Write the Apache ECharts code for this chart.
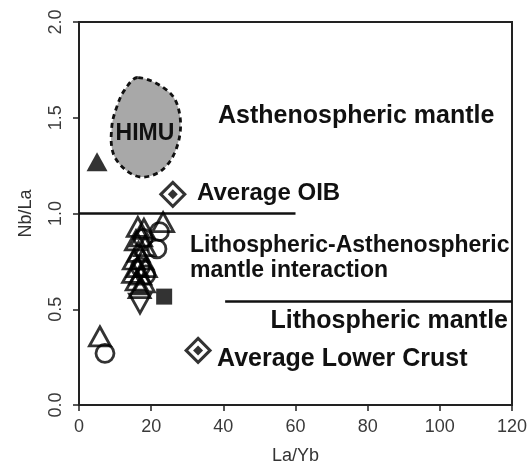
<!DOCTYPE html>
<html>
<head>
<meta charset="utf-8">
<script src="https://cdn.jsdelivr.net/npm/echarts@6/dist/echarts.min.js"></script>
<style>
html,body{margin:0;padding:0;background:#fff;}
#c{width:531px;height:470px;}
</style>
</head>
<body>
<div id="c"></div>
<script>
// ---- data ----
const xTicks = [0, 20, 40, 60, 80, 100, 120];
const yTicks = [0.0, 0.5, 1.0, 1.5, 2.0];

const himuX = [16.4, 25.2, 28.0, 27.2, 23.3, 17.5, 12.7, 9.4, 9.1, 10.5, 12.7];
const himuY = [1.71, 1.63, 1.506, 1.351, 1.231, 1.19, 1.231, 1.319, 1.455, 1.558, 1.647];

const line1X = [0, 60];
const line1Y = [1.0, 1.0];
const line2X = [40.5, 120];
const line2Y = [0.54, 0.54];

const openTriX = [16.3, 18.0, 17.2, 15.8, 18.3, 16.5, 15.2, 17.6, 16.2, 18.5, 15.0, 17.0, 16.0, 18.0, 16.8, 23.3, 5.8];
const openTriY = [0.93, 0.92, 0.88, 0.86, 0.83, 0.80, 0.76, 0.76, 0.72, 0.72, 0.69, 0.68, 0.65, 0.64, 0.61, 0.955, 0.358];

const openCircX = [7.2, 22.3, 21.6, 17.8, 17.0, 18.5];
const openCircY = [0.27, 0.905, 0.815, 0.87, 0.72, 0.68];

const invTriX = [16.9];
const invTriY = [0.53];

const filledTriX = [5.0];
const filledTriY = [1.27];

const squareX = [23.6];
const squareY = [0.566];

const refNames = ['Average OIB', 'Average Lower Crust'];
const refX = [26.0, 33.0];
const refY = [1.10, 0.285];

// ---- helpers ----
const zip = (xs, ys) => xs.map((x, i) => [x, ys[i]]);
const FONT = '"Liberation Sans", Arial, sans-serif';
const openStyle = {color: 'rgba(0,0,0,0)', borderColor: '#000', borderWidth: 2.8};

const chart = echarts.init(document.getElementById('c'), null, {renderer: 'canvas'});
chart.setOption({
  animation: false,
  backgroundColor: '#fff',
  grid: {left: 79, right: 19, top: 22, bottom: 63, show: true, borderColor: '#222', borderWidth: 2, backgroundColor: 'transparent'},
  xAxis: {
    type: 'value', min: xTicks[0], max: xTicks[xTicks.length - 1], interval: 20,
    name: 'La/Yb', nameLocation: 'middle', nameGap: 42,
    nameTextStyle: {fontFamily: FONT, fontSize: 18, color: '#333'},
    axisLine: {lineStyle: {color: '#222', width: 2}},
    axisTick: {show: true, length: 6, lineStyle: {color: '#222', width: 1.5}},
    axisLabel: {fontFamily: FONT, fontSize: 18, color: '#3a3a3a', margin: 13},
    splitLine: {show: false}
  },
  yAxis: {
    type: 'value', min: yTicks[0], max: yTicks[yTicks.length - 1], interval: 0.5,
    name: 'Nb/La', nameLocation: 'middle', nameGap: 44,
    nameTextStyle: {fontFamily: FONT, fontSize: 18, color: '#333'},
    axisLine: {lineStyle: {color: '#222', width: 2}},
    axisTick: {show: true, length: 6, lineStyle: {color: '#222', width: 1.5}},
    axisLabel: {fontFamily: FONT, fontSize: 18, color: '#3a3a3a', margin: 14, rotate: 90,
      formatter: v => v.toFixed(1)},
    splitLine: {show: false}
  },
  graphic: [
    {type: 'text', x: 218, y: 116, style: {text: 'Asthenospheric mantle', font: 'bold 25px ' + FONT, fill: '#111', align: 'left', verticalAlign: 'middle'}},
    {type: 'text', x: 197, y: 193, style: {text: 'Average OIB', font: 'bold 24px ' + FONT, fill: '#111', align: 'left', verticalAlign: 'middle'}},
    {type: 'text', x: 190, y: 246, style: {text: 'Lithospheric-Asthenospheric', font: 'bold 23px ' + FONT, fill: '#111', align: 'left', verticalAlign: 'middle'}},
    {type: 'text', x: 190, y: 271, style: {text: 'mantle interaction', font: 'bold 23px ' + FONT, fill: '#111', align: 'left', verticalAlign: 'middle'}},
    {type: 'text', x: 508, y: 321, style: {text: 'Lithospheric mantle', font: 'bold 25px ' + FONT, fill: '#111', align: 'right', verticalAlign: 'middle'}},
    {type: 'text', x: 217, y: 359, style: {text: 'Average Lower Crust', font: 'bold 25px ' + FONT, fill: '#111', align: 'left', verticalAlign: 'middle'}},
    {type: 'text', x: 145, y: 134, z: 100, style: {text: 'HIMU', font: 'bold 23px ' + FONT, fill: '#111', align: 'center', verticalAlign: 'middle'}}
  ],
  series: [
    {
      type: 'custom', name: 'HIMU', silent: true, z: 1,
      data: [0],
      renderItem: function (params, api) {
        const pts = himuX.map((x, i) => api.coord([x, himuY[i]]));
        return {type: 'polygon', shape: {points: pts, smooth: 0.35},
          style: {fill: '#a8a8a8', stroke: '#111', lineWidth: 2.8, lineDash: [5, 4]}};
      }
    },
    {type: 'line', data: zip(line1X, line1Y), symbol: 'none', lineStyle: {color: '#111', width: 2.5}, z: 2},
    {type: 'line', data: zip(line2X, line2Y), symbol: 'none', lineStyle: {color: '#111', width: 2.5}, z: 2},
    {type: 'scatter', data: zip(openTriX, openTriY), symbol: 'triangle', symbolSize: [21, 19], itemStyle: openStyle, z: 3},
    {type: 'scatter', data: zip(openCircX, openCircY), symbol: 'circle', symbolSize: 18, itemStyle: openStyle, z: 3},
    {type: 'scatter', data: zip(invTriX, invTriY), symbol: 'triangle', symbolRotate: 180, symbolSize: [21, 19], itemStyle: openStyle, z: 3},
    {type: 'scatter', data: zip(filledTriX, filledTriY), symbol: 'triangle', symbolSize: [21, 19], itemStyle: {color: '#000'}, z: 3},
    {type: 'scatter', data: zip(squareX, squareY), symbol: 'rect', symbolSize: 16, itemStyle: {color: '#000'}, z: 3},
    {type: 'scatter', name: 'ref', data: zip(refX, refY), symbol: 'diamond', symbolSize: 24, itemStyle: {color: '#fff', borderColor: '#000', borderWidth: 3}, z: 4},
    {type: 'scatter', name: 'refInner', data: zip(refX, refY), symbol: 'diamond', symbolSize: 10, itemStyle: {color: '#000'}, z: 5}
  ]
});
</script>
</body>
</html>
